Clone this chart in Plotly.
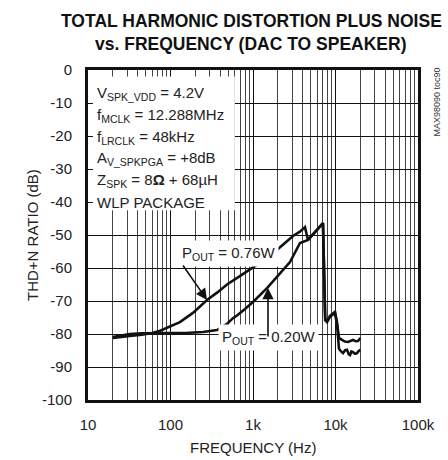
import plotly.graph_objects as go

FONT = "Liberation Sans, Arial, sans-serif"

# 0.76 W curve
freq_076 = [20, 26, 32, 45, 60, 75, 100, 130, 187, 277, 370, 484, 700, 1000, 1600, 2125,
            3055, 3700, 4266, 4642, 5645, 7050, 7500, 7890, 8580, 9860, 10430, 11020,
            11600, 12330, 13100, 13780, 14500, 14990, 15600, 16300, 17200, 18240, 19000, 20000]
thdn_076 = [-81.2, -80.8, -80.6, -80.2, -79.7, -79.0, -77.6, -76.4, -73.6, -69.7, -67.4,
            -65.0, -62.4, -59.7, -56.4, -53.7, -50.3, -49.0, -47.6, -51.5, -49.1, -46.4,
            -75.8, -76.4, -74.8, -73.6, -77.0, -84.5, -85.2, -85.8, -84.9, -84.8, -86.2,
            -86.4, -85.3, -85.5, -86.0, -85.8, -85.2, -84.8]

# 0.20 W curve
freq_020 = [20, 26, 32, 45, 60, 100, 150, 248, 366, 398, 480, 572, 640, 800, 1000, 1478,
            2125, 2808, 3713, 4642, 5645, 7050, 7500, 7890, 8580, 9860, 10430, 11020,
            11990, 13000, 14180, 15200, 16300, 17500, 18750, 20000]
thdn_020 = [-80.9, -80.3, -80.0, -79.8, -79.7, -79.7, -79.7, -79.4, -78.8, -78.2, -77.0,
            -75.2, -74.4, -72.4, -70.3, -66.1, -61.5, -58.2, -52.4, -51.5, -49.1, -46.4,
            -75.2, -76.1, -74.5, -73.3, -76.5, -81.2, -81.8, -82.3, -82.4, -82.0, -81.8,
            -82.2, -82.1, -81.2]

x_tickvals = [10, 100, 1000, 10000, 100000]
x_ticktext = ["10", "100", "1k", "10k", "100k"]
y_tickvals = list(range(-100, 1, 10))
y_ticktext = [str(v) for v in y_tickvals]

cond_lines = [
    "V<sub>SPK_VDD</sub> = 4.2V",
    "f<sub>MCLK</sub> = 12.288MHz",
    "f<sub>LRCLK</sub> = 48kHz",
    "A<sub>V_SPKPGA</sub> = +8dB",
    "Z<sub>SPK</sub> = 8<b>Ω</b> + 68µH",
    "WLP PACKAGE",
]
title_lines = ["TOTAL HARMONIC DISTORTION PLUS NOISE", "vs. FREQUENCY (DAC TO SPEAKER)"]

fig = go.Figure()
for fx, fy in [(freq_076, thdn_076), (freq_020, thdn_020)]:
    fig.add_trace(go.Scatter(x=fx, y=fy, mode="lines",
                             line=dict(color="#111", width=2.6), showlegend=False,
                             hoverinfo="skip"))

fig.update_layout(
    width=448, height=460,
    margin=dict(l=88, r=30, t=70, b=60),
    paper_bgcolor="white", plot_bgcolor="white",
    font=dict(family=FONT, size=15, color="#222"),
    showlegend=False,
)

fig.update_xaxes(
    type="log", range=[1, 5],
    tickvals=x_tickvals, ticktext=x_ticktext,
    showgrid=True, gridcolor="#111", gridwidth=1,
    minor=dict(dtick="D1", showgrid=True, gridcolor="#444", gridwidth=1, ticks=""),
    showline=True, mirror=True, linecolor="#111", linewidth=3,
    ticks="", ticklabelstandoff=9, zeroline=False,
    tickfont=dict(family=FONT, size=15, color="#222"),
)
fig.update_yaxes(
    range=[-100, 0], tickvals=y_tickvals, ticktext=y_ticktext,
    showgrid=True, gridcolor="#111", gridwidth=1,
    showline=True, mirror=True, linecolor="#111", linewidth=3,
    ticks="", ticklabelstandoff=10, zeroline=False,
    tickfont=dict(family=FONT, size=15, color="#222"),
)

# white box behind operating conditions
fig.add_shape(type="rect", xref="paper", yref="paper",
              x0=0.015, x1=0.445, y0=0.575, y1=0.98,
              fillcolor="white", line=dict(width=0), layer="above")

line_px = [93, 115, 137, 158, 180, 202]
for txt, py in zip(cond_lines, line_px):
    fig.add_annotation(text=txt, xref="paper", yref="paper",
                       x=(95 - 88) / 330, y=(400 - py) / 330,
                       xanchor="left", yanchor="middle", showarrow=False,
                       font=dict(family=FONT, size=15, color="#222"))

# curve labels
fig.add_annotation(text="P<sub>OUT</sub> = 0.76W", xref="paper", yref="paper",
                   x=(178 - 88) / 330, y=(400 - 253) / 330, showarrow=False,
                   bgcolor="white", borderpad=3,
                   font=dict(family=FONT, size=15, color="#222"))
fig.add_annotation(text="P<sub>OUT</sub> = 0.20W", xref="paper", yref="paper",
                   x=(268 - 88) / 330, y=(400 - 351) / 330, showarrow=False,
                   bgcolor="white", borderpad=3,
                   font=dict(family=FONT, size=15, color="#222"))

# arrows
fig.add_annotation(text="", xref="paper", yref="paper",
                   x=(207 - 88) / 330, y=(400 - 300) / 330, ax=-25, ay=-36,
                   showarrow=True, arrowhead=2, arrowsize=1.4, arrowwidth=1.6,
                   arrowcolor="#111")
fig.add_annotation(text="", xref="paper", yref="paper",
                   x=(268 - 88) / 330, y=(400 - 288) / 330, ax=0, ay=50,
                   showarrow=True, arrowhead=2, arrowsize=1.4, arrowwidth=1.6,
                   arrowcolor="#111")

# title
for txt, py in zip(title_lines, [21, 44]):
    fig.add_annotation(text="<b>" + txt + "</b>",
                       xref="paper", yref="paper", x=(251 - 88) / 330, y=(400 - py) / 330,
                       xanchor="center", yanchor="middle", showarrow=False,
                       font=dict(family=FONT, size=17.5, color="#111"))

# axis titles
fig.add_annotation(text="FREQUENCY (Hz)", xref="paper", yref="paper",
                   x=(253 - 88) / 330, y=(400 - 447) / 330,
                   xanchor="center", yanchor="middle", showarrow=False,
                   font=dict(family=FONT, size=15, color="#222"))
fig.add_annotation(text="THD+N RATIO (dB)", xref="paper", yref="paper",
                   x=(32 - 88) / 330, y=(400 - 235) / 330, textangle=-90,
                   xanchor="center", yanchor="middle", showarrow=False,
                   font=dict(family=FONT, size=15, color="#222"))

# figure id
fig.add_annotation(text="MAX98090 toc90", xref="paper", yref="paper",
                   x=(437 - 88) / 330, y=(400 - 66) / 330, textangle=-90,
                   xanchor="center", yanchor="top", showarrow=False,
                   font=dict(family=FONT, size=9, color="#333"))

fig.write_html("out.html", config={"displayModeBar": False},
               post_script="document.body.style.margin='0';")
